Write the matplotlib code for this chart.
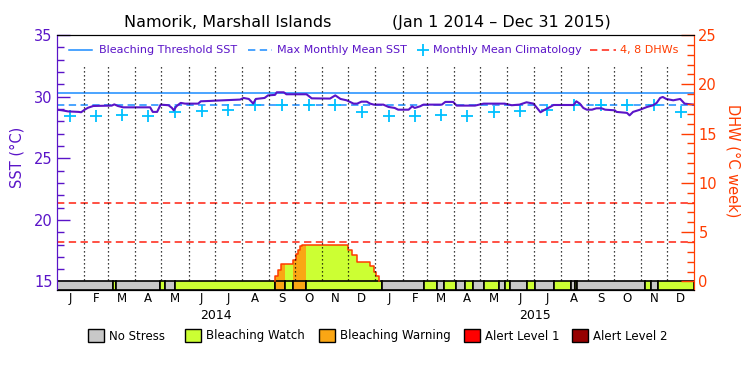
import numpy as np
import matplotlib
matplotlib.use('Agg')
import matplotlib.pyplot as plt
from matplotlib.patches import Rectangle

# SST time series (day since Jan 1 2014, deg C)
sst_day = [0, 6, 13, 25, 28, 32, 36, 42, 63, 66, 70, 76, 107, 110, 115, 119, 128, 132,
           134, 137, 142, 147, 162, 165, 176, 181, 210, 214, 220, 223, 225, 228, 238, 242,
           250, 252, 260, 263, 286, 292, 313, 319, 325, 332, 340, 344, 349, 355, 359, 363,
           374, 380, 387, 391, 403, 407, 410, 416, 420, 441, 445, 454, 458, 479, 485, 489,
           513, 521, 530, 538, 546, 550, 554, 559, 565, 569, 592, 595, 599, 603, 607, 613,
           618, 624, 628, 639, 641, 653, 656, 660, 668, 676, 683, 687, 691, 694, 698, 706,
           714, 719, 729]
sst_val = [28.94, 28.89, 28.80, 28.76, 28.73, 28.94, 29.10, 29.24, 29.27, 29.37, 29.24, 29.13,
           29.13, 28.76, 28.76, 29.35, 29.30, 29.08, 28.89, 29.21, 29.49, 29.43, 29.43, 29.62,
           29.65, 29.67, 29.76, 29.89, 29.81, 29.59, 29.43, 29.81, 29.89, 30.10, 30.14, 30.35,
           30.35, 30.19, 30.19, 29.86, 29.84, 30.10, 29.81, 29.70, 29.43, 29.43, 29.59, 29.59,
           29.43, 29.35, 29.35, 29.16, 29.08, 28.94, 28.94, 29.21, 29.08, 29.21, 29.35, 29.35,
           29.57, 29.57, 29.27, 29.27, 29.37, 29.43, 29.43, 29.30, 29.35, 29.54, 29.43, 29.08,
           28.73, 28.94, 29.16, 29.32, 29.32, 29.62, 29.43, 29.08, 28.94, 28.94, 29.05, 29.05,
           28.94, 28.89, 28.76, 28.68, 28.48, 28.76, 28.94, 29.16, 29.30, 29.49, 29.89, 29.97,
           29.81, 29.70, 29.81, 29.43, 29.35]

# monthly mean climatology (Jan..Dec)
clim_val = [28.45, 28.40, 28.51, 28.40, 28.78, 28.86, 28.94, 29.30, 29.33, 29.33, 29.33, 28.76]
mmm = 29.33
threshold = 30.33

# degree heating weeks (step values starting at the given day)
dhw_day = [250, 253, 257, 271, 274, 276, 279, 281, 334, 338, 344, 359, 363, 366, 369]
dhw_val = [0.6, 1.15, 1.75, 2.2, 2.75, 3.2, 3.55, 3.75, 3.2, 2.65, 2.0, 1.55, 0.95, 0.6, 0.0]

# alert status bar: start day of each segment and level
status_start = [0, 64, 68, 118, 124, 135, 250, 261, 271, 286, 373, 421, 436, 443, 457, 468,
                477, 489, 506, 513, 519, 538, 548, 569, 589, 593, 596, 674, 681, 688]
status_level = [0, 1, 0, 1, 0, 1, 2, 1, 2, 1, 0, 1, 0, 1, 0, 1,
                0, 1, 0, 1, 0, 1, 0, 1, 0, 1, 0, 1, 0, 1]
status_names = ['No Stress', 'Bleaching Watch', 'Bleaching Warning', 'Alert Level 1', 'Alert Level 2']
status_colors = ['#c8c8c8', '#ccff33', '#faa614', '#ff0000', '#960000']

month_letters = list('JFMAMJJASOND')
years = ['2014', '2015']
n_days = 730

PURPLE = '#5a14c8'
ORANGE = '#ff3c00'
BLUE = '#1a8cff'
CYAN = '#00c0ff'
RED = '#ff2010'

# month boundaries in days
months = np.arange('2014-01', '2016-02', dtype='datetime64[M]')
month_edges = (months.astype('datetime64[D]') - np.datetime64('2014-01-01')).astype(int)
month_centers = (month_edges[:-1] + month_edges[1:]) / 2

fig = plt.figure(figsize=(7.5, 3.75), dpi=100)
ax = fig.add_axes([0.0756, 0.2267, 0.850, 0.68])
ax2 = ax.twinx()

lo = 14.31
ax.set_xlim(0, n_days)
ax.set_ylim(lo, 35)
ax2.set_ylim((lo - 15) * 1.25, 25)
dlo = (lo - 15) * 1.25

# SST axis stuff
ax.axhline(threshold, color=BLUE, lw=1.1)
ax.axhline(mmm, color=BLUE, lw=1.1, ls=(0, (4.8, 2.9)))
ax.plot(month_centers, np.tile(clim_val, 2), ls='none', marker='+', color=CYAN, ms=8, mew=1.3)
ax.plot(sst_day, sst_val, color=PURPLE, lw=1.5)

# DHW fill coloured by status
ends = status_start[1:] + [n_days]
dd = np.array(dhw_day)
dv = np.array(dhw_val)
for s, e, lvl in zip(status_start, ends, status_level):
    if lvl == 0:
        continue
    days = np.arange(s, e + 1)
    idx = np.searchsorted(dd, days, side='right') - 1
    vals = np.where(idx >= 0, dv[np.clip(idx, 0, None)], 0.0)
    vals[days > dd[-1]] = 0.0
    ax2.fill_between(days, 0, vals, step='post', color=status_colors[lvl], lw=0)
ax2.plot([dhw_day[0]] + dhw_day, [0] + dhw_val, drawstyle='steps-post', color=ORANGE, lw=1.1)

ax2.axhline(4, color=RED, lw=1.1, ls=(0, (4.8, 2.9)))
ax2.axhline(8, color=RED, lw=1.1, ls=(0, (4.8, 2.9)))

# dotted month lines
ax2.vlines(month_edges[1:-1], 0.15, 22.0, colors='k', linestyles=(0, (1, 2.2)), lw=0.9)

# status bar
widths = [e - s for s, e in zip(status_start, ends)]
ax2.bar(status_start, -dlo, width=widths, bottom=dlo, align='edge',
        color=[status_colors[l] for l in status_level], edgecolor='k', linewidth=1.2)

# ticks
ax.set_yticks(range(15, 36, 5))
ax.set_yticks(range(15, 36), minor=True)
ax.tick_params(axis='y', which='major', direction='in', length=9.5, width=1,
               color=PURPLE, labelcolor=PURPLE, labelsize=10.5, pad=3)
ax.tick_params(axis='y', which='minor', direction='in', length=4.8, width=1, color=PURPLE)
ax2.set_yticks(range(0, 26, 5))
ax2.set_yticks(range(0, 26), minor=True)
ax2.tick_params(axis='y', which='major', direction='in', length=9.5, width=1,
                color=ORANGE, labelcolor=ORANGE, labelsize=10.5, pad=3)
ax2.tick_params(axis='y', which='minor', direction='in', length=4.8, width=1, color=ORANGE)
ax.set_xticks(month_centers, month_letters * 2)
ax.tick_params(axis='x', length=0, labelsize=8.5, pad=1.5)

for a in (ax, ax2):
    a.spines['left'].set_color(PURPLE)
    a.spines['right'].set_color(ORANGE)
    a.spines['top'].set_color('k')
    a.spines['bottom'].set_color('k')

tr = ax.get_xaxis_transform()
for i, y in enumerate(years):
    ax.text(182.5 + 365 * i, -0.102, y, transform=tr, ha='center', va='center', fontsize=9)

# top legend
ya = 0.941
ta = ax.transAxes
ax.plot([0.019, 0.056], [ya, ya], color=BLUE, lw=1.1, transform=ta)
ax.text(0.066, ya, 'Bleaching Threshold SST', color=PURPLE, fontsize=8, va='center', transform=ta)
ax.plot([0.300, 0.338], [ya, ya], color=BLUE, lw=1.1, ls=(0, (4.8, 2.9)), transform=ta)
ax.text(0.345, ya, 'Max Monthly Mean SST', color=PURPLE, fontsize=8, va='center', transform=ta)
ax.plot([0.574], [ya], marker='+', color=CYAN, ms=8, mew=1.3, transform=ta)
ax.text(0.590, ya, 'Monthly Mean Climatology', color=PURPLE, fontsize=8, va='center', transform=ta)
ax.plot([0.836, 0.877], [ya, ya], color=RED, lw=1.1, ls=(0, (4.8, 2.9)), transform=ta)
ax.text(0.883, ya, '4, 8 DHWs', color=ORANGE, fontsize=8, va='center', transform=ta)

# titles and axis labels
fig.text(0.303, 0.941, 'Namorik, Marshall Islands', ha='center', va='center', fontsize=11.5)
fig.text(0.669, 0.941, '(Jan 1 2014 \u2013 Dec 31 2015)', ha='center', va='center', fontsize=11.5)
fig.text(17 / 750, 1 - 157 / 375, 'SST (\u00b0C)', rotation=90, color=PURPLE,
         ha='center', va='center', fontsize=10.5)
fig.text(733 / 750, 1 - 161 / 375, 'DHW (\u00b0C week)', rotation=-90, color=ORANGE,
         ha='center', va='center', fontsize=10.5)

# status legend along the bottom
box_x = [88, 185, 319, 464, 572]
for bx, name, col in zip(box_x, status_names, status_colors):
    fig.patches.append(Rectangle((bx / 750, (375 - 342) / 375), 16 / 750, 13 / 375,
                                 facecolor=col, edgecolor='k', lw=1, transform=fig.transFigure))
    fig.text((bx + 21) / 750, 1 - 336 / 375, name, ha='left', va='center', fontsize=8.5)

fig.savefig('out.png', dpi=100)
